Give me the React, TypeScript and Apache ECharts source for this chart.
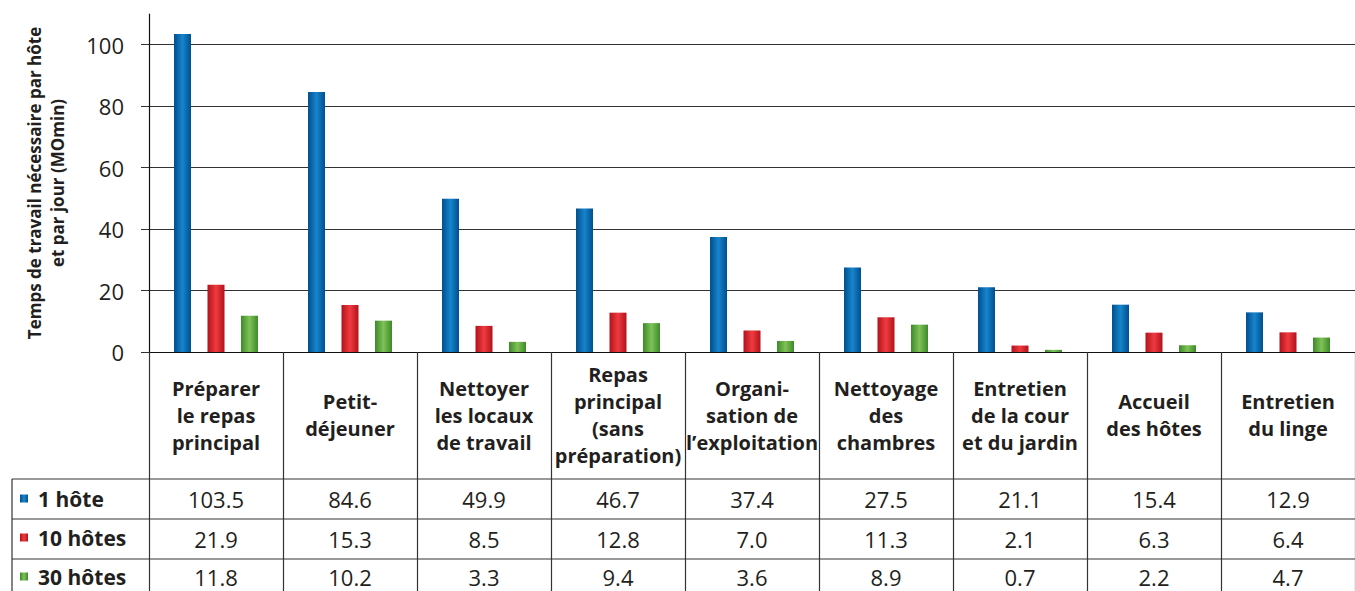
import React, { useEffect, useRef } from "react";
import * as echarts from "echarts";

const categories = [
  "Préparer\nle repas\nprincipal",
  "Petit-\ndéjeuner",
  "Nettoyer\nles locaux\nde travail",
  "Repas\nprincipal\n(sans\npréparation)",
  "Organi-\nsation de\nl’exploitation",
  "Nettoyage\ndes\nchambres",
  "Entretien\nde la cour\net du jardin",
  "Accueil\ndes hôtes",
  "Entretien\ndu linge",
];
const seriesNames = ["1 hôte", "10 hôtes", "30 hôtes"];
const hote1 = [103.5, 84.6, 49.9, 46.7, 37.4, 27.5, 21.1, 15.4, 12.9];
const hotes10 = [21.9, 15.3, 8.5, 12.8, 7.0, 11.3, 2.1, 6.3, 6.4];
const hotes30 = [11.8, 10.2, 3.3, 9.4, 3.6, 8.9, 0.7, 2.2, 4.7];
const yTicks = [0, 20, 40, 60, 80, 100];

const FONT = "'Open Sans', 'Noto Sans', sans-serif";
const TXT = "#231f20";

function grad(edge: string, mid: string) {
  return new echarts.graphic.LinearGradient(0, 0, 1, 0, [
    { offset: 0, color: edge },
    { offset: 0.5, color: mid },
    { offset: 1, color: edge },
  ]);
}

export default function App() {
  const ref = useRef<HTMLDivElement>(null);
  useEffect(() => {
    if (!ref.current) return;
    const chart = echarts.init(ref.current, null, { renderer: "svg" });
    const allSeries = [hote1, hotes10, hotes30];
    const colors = [
      grad("#004f8e", "#1784cc"),
      grad("#b3121b", "#ee3b40"),
      grad("#3d8a29", "#7fc257"),
    ];
    const rowMargins = [147, 187, 225];
    const dataAxes = allSeries.map((vals, i) => ({
      type: "category",
      gridIndex: 0,
      position: "bottom",
      data: vals.map((v) => v.toFixed(1)),
      axisLine: { show: false },
      axisTick: { show: false },
      splitLine: { show: false },
      axisLabel: {
        interval: 0,
        margin: rowMargins[i],
        verticalAlign: "middle",
        fontFamily: FONT,
        fontSize: 22,
        lineHeight: 17,
        color: TXT,
      },
    }));
    const gridColors = ["#333", "#333", "#333", "#333", "#333", "#333", "rgba(0,0,0,0)"];
    chart.setOption({
      animation: false,
      backgroundColor: "#fff",
      grid: { left: 149, right: 0, top: 14, bottom: 239, outerBoundsMode: "none", containLabel: false },
      legend: {
        orient: "vertical",
        left: 20,
        top: 488,
        height: 160,
        padding: 0,
        data: seriesNames,
        icon: "rect",
        itemWidth: 8,
        itemHeight: 8,
        itemGap: 18,
        selectedMode: false,
        textStyle: {
          fontFamily: FONT,
          fontSize: 21,
          fontWeight: "bold",
          color: TXT,
          lineHeight: 17,
          padding: [0, 0, 0, 5],
        },
      },
      xAxis: [
        {
          type: "category",
          data: categories,
          axisLine: { lineStyle: { color: "#111", width: 1.2 } },
          axisTick: { show: true, length: 239, lineStyle: { color: "#333", width: 1.2 } },
          axisLabel: {
            interval: 0,
            margin: 63,
            verticalAlign: "middle",
            fontFamily: FONT,
            fontSize: 20,
            fontWeight: "bold",
            lineHeight: 27,
            color: TXT,
          },
        },
        ...dataAxes,
      ],
      yAxis: {
        type: "value",
        min: 0,
        max: 110,
        interval: 20,
        name: "Temps de travail nécessaire par hôte\net par jour (MOmin)",
        nameLocation: "middle",
        nameGap: 80,
        nameTextStyle: {
          fontFamily: FONT,
          fontSize: 17,
          fontWeight: "bold",
          lineHeight: 23,
          color: TXT,
        },
        axisLine: { show: true, lineStyle: { color: "#111", width: 1.2 } },
        axisTick: { show: true, length: 8, customValues: yTicks, lineStyle: { color: "#333" } },
        axisLabel: {
          customValues: yTicks,
          margin: 25,
          fontFamily: FONT,
          fontSize: 22,
          color: TXT,
        },
        splitLine: { show: true, lineStyle: { color: gridColors, width: 1.2 } },
      },
      series: allSeries.map((vals, i) => ({
        name: seriesNames[i],
        type: "bar",
        data: vals,
        barWidth: 17,
        barGap: "97%",
        itemStyle: { color: colors[i] },
      })),
      graphic: [
        ...[479, 519, 559].map((y) => ({
          type: "line",
          shape: { x1: 12, y1: y, x2: 1355, y2: y },
          style: { stroke: "#333", lineWidth: 1.2 },
        })),
        {
          type: "line",
          shape: { x1: 12, y1: 479, x2: 12, y2: 591 },
          style: { stroke: "#333", lineWidth: 1.2 },
        },
      ],
    });
    return () => chart.dispose();
  }, []);
  return (
    <div
      ref={ref}
      style={{ position: "absolute", left: 0, top: 0, width: 1355, height: 591, background: "#fff" }}
    />
  );
}
